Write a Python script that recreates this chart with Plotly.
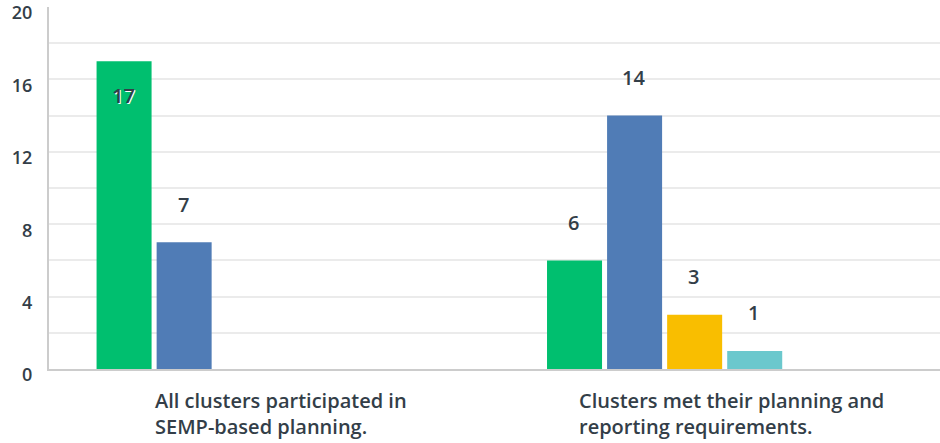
import plotly.graph_objects as go

categories = ["All clusters participated in<br>SEMP-based planning.",
              "Clusters met their planning and<br>reporting requirements."]
series_names = ["Option 1", "Option 2", "Option 3", "Option 4", "Option 5", "Option 6"]
series_values = [
    [17, 6],
    [7, 14],
    [None, 3],
    [None, 1],
    [None, None],
    [None, None],
]
colors = ["#00BF6F", "#507CB6", "#F9BE00", "#6BC8CD", "#FF8B4F", "#7D5E90"]
y_ticks = [0, 4, 8, 12, 16, 20]

BARGAP = 0.2
BARGROUPGAP = 0.084
TEXT_COLOR = "#333e48"
FONT = "Open Sans"

fig = go.Figure()
xs = list(range(len(categories)))
for name, vals, col in zip(series_names, series_values, colors):
    fig.add_trace(go.Bar(x=xs, y=vals, name=name, marker=dict(color=col, line=dict(width=0)),
                         hoverinfo="y+name"))

n = len(series_names)
slot = (1 - BARGAP) / n
annotations = []
for i, vals in enumerate(series_values):
    off = (i - (n - 1) / 2) * slot
    for j, v in enumerate(vals):
        if v is None:
            continue
        inside = v >= 17
        annotations.append(dict(
            x=j + off, y=v, xref="x", yref="y", text=str(v), showarrow=False,
            xanchor="center", yanchor="middle",
            yshift=-34 if inside else 38, xshift=-1,
            font=dict(family=FONT, size=20, color=TEXT_COLOR, weight=600,
                      shadow="1px 1px 0px #ffffff" if inside else "none"),
        ))

for j, lab in enumerate(categories):
    annotations.append(dict(
        x=j, y=0, xref="x", yref="y", yshift=-16, xshift=7, text=lab, showarrow=False,
        xanchor="center", yanchor="top", align="left",
        font=dict(family=FONT, size=20, color=TEXT_COLOR, weight=600),
    ))

fig.update_layout(
    width=940, height=443,
    margin=dict(l=49, r=0, t=7, b=74, pad=0),
    barmode="group", bargap=BARGAP, bargroupgap=BARGROUPGAP,
    plot_bgcolor="white", paper_bgcolor="white",
    showlegend=False,
    annotations=annotations,
    font=dict(family=FONT, color=TEXT_COLOR),
)
fig.update_xaxes(range=[-0.5, 1.478], showticklabels=False, showgrid=False, automargin=False,
                 showline=True, linecolor="#cccccc", linewidth=2, zeroline=False, ticks="")
fig.update_yaxes(range=[0, 20], tickvals=y_ticks, showgrid=True, gridcolor="#ebebeb", gridwidth=2,
                 minor=dict(dtick=2, showgrid=True, gridcolor="#ebebeb", gridwidth=2, tick0=0),
                 showline=True, linecolor="#cccccc", linewidth=2, zeroline=False, automargin=False,
                 ticks="", ticklabelstandoff=11, ticklabelshift=6, ticklabeloverflow="allow",
                 tickfont=dict(family=FONT, size=18, color=TEXT_COLOR, weight=600))

fig.write_html("out.html", config={"displayModeBar": False},
               post_script="document.body.style.margin='0';")
